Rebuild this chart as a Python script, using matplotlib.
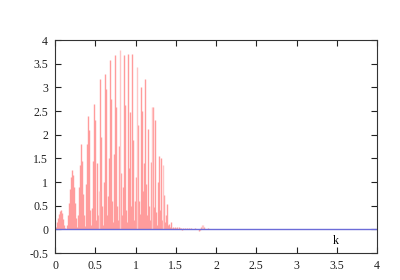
import numpy as np
import matplotlib
matplotlib.use("Agg")
import matplotlib.pyplot as plt

# impulse heights on a uniform k grid (step dk, starting at k0)
k0 = 0.0124
dk = 0.01242
heights = [
    0.05, 0.15, 0.25, 0.33, 0.38, 0.40, 0.34, 0.22, 0.10, 0.03,
    0.00, 0.10, 0.30, 0.55, 0.85, 1.10, 1.25, 1.15, 0.90, 0.55,
    0.25, 0.05, 0.30, 0.90, 1.35, 1.81, 1.45, 0.75, 0.30, 0.08,
    0.96, 1.80, 2.40, 2.10, 0.40, 0.10, 0.45, 1.45, 2.65, 2.30,
    0.20, 1.40, 0.30, 0.80, 3.18, 1.95, 0.50, 0.10, 1.00, 3.29,
    2.97, 0.30, 0.70, 1.50, 3.57, 2.76, 0.60, 0.15, 1.60, 3.68,
    2.58, 0.50, 0.20, 1.77, 3.78, 1.20, 0.30, 0.90, 3.68, 2.62,
    0.40, 0.15, 3.71, 1.30, 2.48, 0.50, 3.71, 1.88, 0.20, 0.60,
    1.10, 3.44, 2.20, 0.60, 0.33, 3.00, 2.50, 0.80, 1.40, 3.18,
    0.96, 0.30, 2.13, 0.50, 0.20, 1.42, 2.58, 2.58, 0.47, 2.30,
    0.37, 0.10, 1.00, 1.56, 0.40, 1.50, 0.20, 1.35, 0.72, 0.15,
    0.30, 0.54, 0.10, 0.12, 0.05, 0.15, 0.03, 0.05, 0.02, 0.04,
    0.02, 0.05, 0.01, 0.04, 0.02, 0.03, -0.02, 0.03, 0.01, 0.03,
    0.00, 0.02, 0.00, 0.03, 0.01, 0.03, 0.00, 0.01, 0.00, 0.02,
    0.00, 0.01, 0.00, -0.03, -0.02, 0.05, 0.10, 0.10, 0.06, 0.00,
    0.01, 0.00, 0.02, 0.00, 0.01, 0.00, 0.01, 0.00, 0.01, 0.00,
]
# indices drawn in the lighter pink
light_idx = [43, 64, 81, 96, 107, 146, 147]

x_ticks = [0, 0.5, 1, 1.5, 2, 2.5, 3, 3.5, 4]
y_ticks = [-0.5, 0, 0.5, 1, 1.5, 2, 2.5, 3, 3.5, 4]

k = k0 + dk * np.arange(len(heights))
h = np.array(heights)
is_light = np.zeros(len(h), dtype=bool)
is_light[light_idx] = True

plt.rcParams['font.family'] = ['Liberation Serif', 'DejaVu Serif']
fig = plt.figure(figsize=(4, 2.8), dpi=100)
ax = fig.add_axes([0.1375, 0.0964, 0.805, 0.7606])

ax.vlines(k[~is_light], 0, h[~is_light], color='#ff9c9c', linewidth=1.0)
ax.vlines(k[is_light], 0, h[is_light], color='#ffc6c6', linewidth=1.0)
ax.axhline(0, color='#6c6cd8', linewidth=1.0)

ax.set_xlim(0, 4)
ax.set_ylim(-0.5, 4)
ax.set_xticks(x_ticks)
ax.set_xticklabels([f"{t:g}" for t in x_ticks])
ax.set_yticks(y_ticks)
ax.set_yticklabels([f"{t:g}" for t in y_ticks])
ax.tick_params(direction='in', length=4, width=0.8, top=True, right=True,
               labelsize=8.6, pad=5, colors='#222222')
for s in ax.spines.values():
    s.set_color('#333333')
    s.set_linewidth(0.8)

ax.text(3.49, -0.25, "k", fontsize=8.6, ha='center', va='center')

fig.savefig("out.png", dpi=100)
